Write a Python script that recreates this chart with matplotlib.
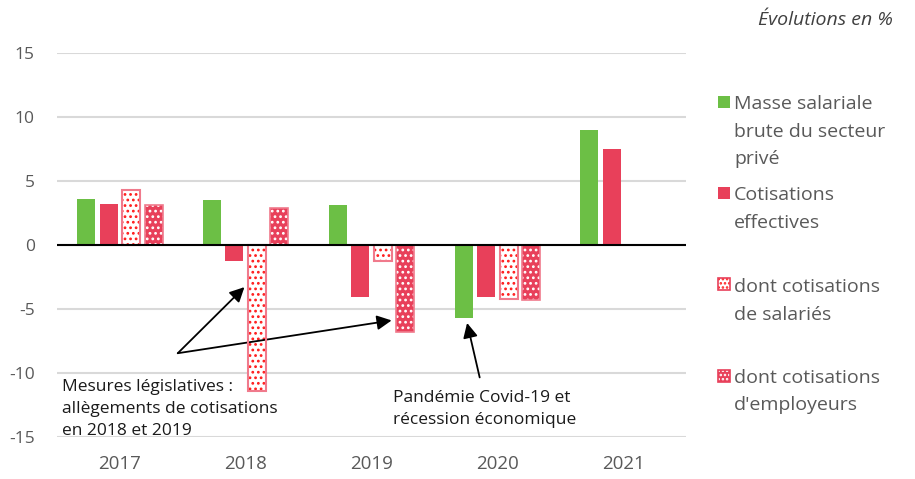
import matplotlib.pyplot as plt
import numpy as np
from matplotlib.patches import Rectangle

plt.rcParams['font.family'] = ['Open Sans', 'DejaVu Sans']
plt.rcParams['hatch.linewidth'] = 1.2

years = ["2017", "2018", "2019", "2020", "2021"]
masse = [3.6, 3.5, 3.1, -5.7, 9.0]
cotis = [3.2, -1.3, -4.1, -4.1, 7.5]
salaries = [4.3, -11.4, -1.3, -4.2, np.nan]
employeurs = [3.1, 2.9, -6.8, -4.3, np.nan]

labels = ["Masse salariale\nbrute du secteur\nprivé", "Cotisations\neffectives",
          "dont cotisations\nde salariés", "dont cotisations\nd'employeurs"]

green = "#6cbf45"
red = "#e8405a"
edge_pink = "#f07a8c"

fig = plt.figure(figsize=(9.15, 4.79), dpi=100)
ax = fig.add_axes([0.0623, 0.0877, 0.6874, 0.8023])

x = np.arange(len(years))
step = 0.179
w = 0.143

ax.bar(x - 1.5 * step, masse, w, color=green, zorder=3)
ax.bar(x - 0.5 * step, cotis, w, color=red, zorder=3)
# salariés: white with red dots
ax.bar(x + 0.5 * step, salaries, w, facecolor="white", edgecolor="#ff1a1a",
       hatch="...", linewidth=0, zorder=3)
ax.bar(x + 0.5 * step, salaries, w, fill=False, edgecolor=edge_pink,
       linewidth=1.5, zorder=4)
# employeurs: red with white dots
ax.bar(x + 1.5 * step, employeurs, w, facecolor=red, edgecolor="white",
       hatch="...", linewidth=0, zorder=3)
ax.bar(x + 1.5 * step, employeurs, w, fill=False, edgecolor=edge_pink,
       linewidth=1.2, zorder=4)

ax.axhline(0, color="black", linewidth=1.5, zorder=5)
ax.set_ylim(-15, 15)
ax.set_xlim(-0.5, 4.5)
ax.set_yticks([-15, -10, -5, 0, 5, 10, 15])
ax.set_yticklabels(["-15", "-10", "-5", "0", "5", "10", "15"])
ax.set_xticks(x)
ax.set_xticklabels(years)
ax.grid(axis="y", color="#d9d9d9", linewidth=1.5, zorder=0)
ax.set_axisbelow(True)
for s in ax.spines.values():
    s.set_visible(False)
ax.tick_params(axis="y", length=0, pad=16, labelsize=12.5, labelcolor="#595959")
ax.tick_params(axis="x", length=0, pad=13, labelsize=13.5, labelcolor="#595959")

arrow = dict(arrowstyle="-|>", color="black", lw=1.3, mutation_scale=22,
             shrinkA=0, shrinkB=0)
ax.annotate("", xy=(0.99, -3.3), xytext=(0.46, -8.46), arrowprops=arrow)
ax.annotate("", xy=(2.16, -5.9), xytext=(0.46, -8.46), arrowprops=arrow)
ax.annotate("", xy=(2.76, -6.1), xytext=(2.86, -10.35), arrowprops=arrow)

# baseline alignment refers to the last line of each text
ax.text(-0.46, -14.85, "Mesures législatives :\nallègements de cotisations\nen 2018 et 2019",
        fontsize=12.5, va="baseline", ha="left", color="#1a1a1a", linespacing=1.5)
ax.text(2.17, -13.95, "Pandémie Covid-19 et\nrécession économique",
        fontsize=12.5, va="baseline", ha="left", color="#1a1a1a", linespacing=1.5)

fig.text(893 / 915, 1 - 25 / 479, "Évolutions en %", style="italic",
         fontsize=14, color="#404040", ha="right", va="baseline")

# legend drawn by hand to keep fixed spacing between entries
H = 479
line_h = 27.5
leg_y = [102, 193, 284, 376]
leg_base = [109, 200, 292, 383]
styles = [dict(facecolor=green, edgecolor=green),
          dict(facecolor=red, edgecolor=red),
          dict(facecolor="white", edgecolor="#ff1a1a", hatch="...."),
          dict(facecolor=red, edgecolor="white", hatch="....")]
for yy, yb, lab, st in zip(leg_y, leg_base, labels, styles):
    sq = 12
    r = Rectangle((718 / 915, 1 - (yy + sq / 2) / H), sq / 915, sq / H,
                  transform=fig.transFigure, linewidth=0, **st)
    fig.add_artist(r)
    if "hatch" in st:
        fig.add_artist(Rectangle((718 / 915, 1 - (yy + sq / 2) / H), sq / 915, sq / H,
                                 transform=fig.transFigure, fill=False,
                                 edgecolor=red, linewidth=1.2))
    nl = lab.count("\n")
    fig.text(734 / 915, 1 - (yb + nl * line_h) / H, lab, fontsize=14, color="#595959",
             va="baseline", ha="left", linespacing=1.67)

fig.savefig("out.png", dpi=100)
